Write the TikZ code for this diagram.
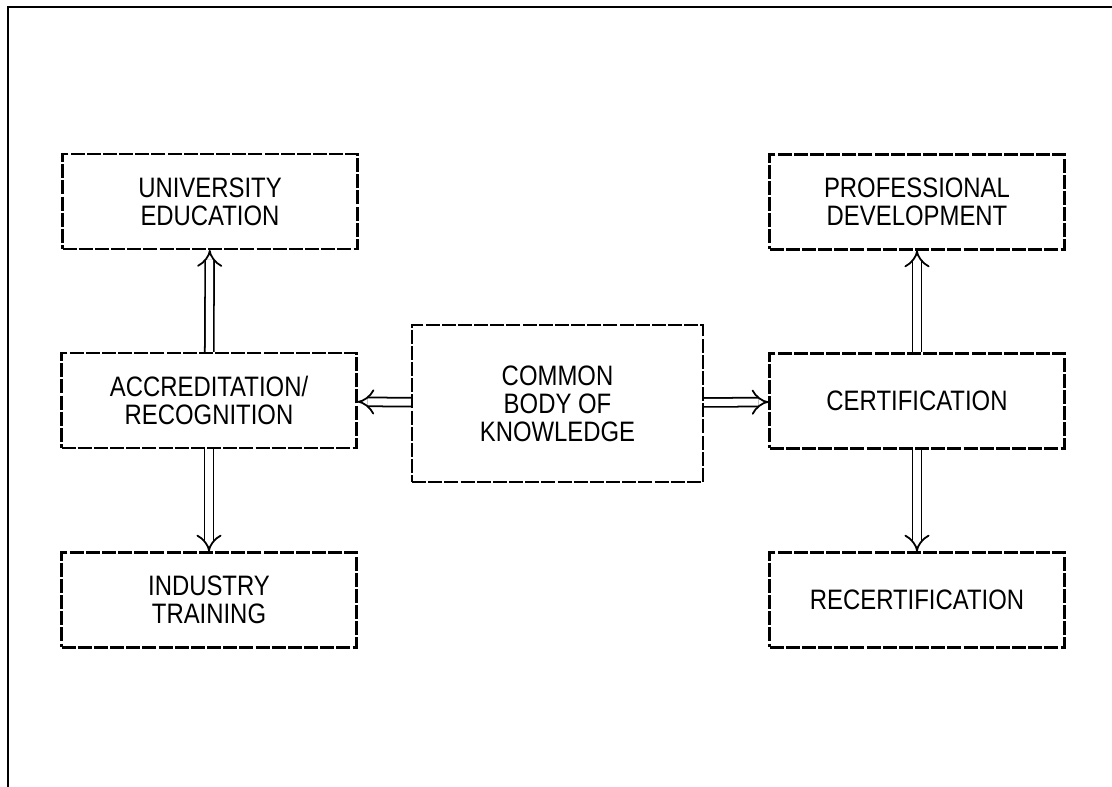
\documentclass[tikz,border=0pt]{standalone}
\usepackage{fontspec}
\setmainfont[FakeStretch=0.85]{Liberation Sans}
\usepackage{tikz}
\usetikzlibrary{positioning,arrows.meta}

\begin{document}
\begin{tikzpicture}[
    box/.style={draw, line width=1.2pt, dash pattern=on 8pt off 1.2pt,
      minimum width=5.9cm, minimum height=1.9cm, align=center,
      font=\fontsize{16}{16}\selectfont},
    dblarrow/.style={double, double distance=4pt, line width=1pt, -{Implies[scale=1.6]}},
    frame/.style={line width=1.4pt}
  ]
  \useasboundingbox (0,0) rectangle (22.24,15.74);
  % Frame
  \coordinate (tl) at (0.16,15.6);
  \coordinate (tr) at (22.24,15.6);
  \coordinate (bl) at (0.16,0);
  \draw[frame] (tr) -- (tl) -- (bl);

  % Boxes
  \node[box] (univ)   at (4.20,11.71) {UNIVERSITY\\EDUCATION};
  \node[box] (accr)   at (4.18,7.73)  {ACCREDITATION/\\RECOGNITION};
  \node[box] (ind)    at (4.18,3.74)  {INDUSTRY\\TRAINING};
  \node[box, minimum width=5.82cm, minimum height=3.14cm] (cbok) at (11.15,7.67)
    {COMMON\\BODY OF\\KNOWLEDGE};
  \node[box] (cert)   at (18.34,7.72) {CERTIFICATION};
  \node[box] (prof)   at (18.34,11.70) {PROFESSIONAL\\DEVELOPMENT};
  \node[box] (recert) at (18.34,3.74) {RECERTIFICATION};

  % Arrows
  \draw[dblarrow] (accr) -- (univ);
  \draw[dblarrow] (accr) -- (ind);
  \draw[dblarrow] (cbok) -- (accr);
  \draw[dblarrow] (cbok) -- (cert);
  \draw[dblarrow] (cert) -- (prof);
  \draw[dblarrow] (cert) -- (recert);
\end{tikzpicture}
\end{document}
